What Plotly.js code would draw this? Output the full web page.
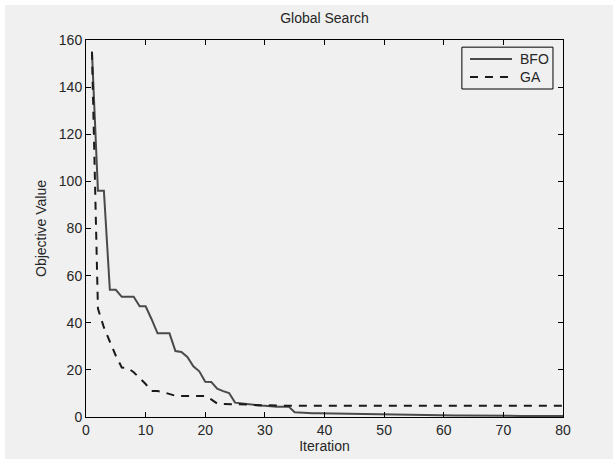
<!DOCTYPE html>
<html>
<head>
<meta charset="utf-8">
<script src="https://cdn.plot.ly/plotly-3.0.1.min.js"></script>
<style>
  html, body { margin: 0; padding: 0; background: #ffffff; width: 613px; height: 464px; overflow: hidden; }
  #chart { position: absolute; left: 5px; top: 5px; width: 608px; height: 454px; }
</style>
</head>
<body>
<div id="chart"></div>
<script>
// Convergence of the best objective value per iteration
const iterations = [
  1, 2, 3, 4, 5, 6, 7, 8, 9, 10,
  11, 12, 13, 14, 15, 16, 17, 18, 19, 20,
  21, 22, 23, 24, 25, 26, 27, 28, 29, 30,
  31, 32, 33, 34, 35, 36, 37, 38, 39, 40,
  41, 42, 43, 44, 45, 46, 47, 48, 49, 50,
  51, 52, 53, 54, 55, 56, 57, 58, 59, 60,
  61, 62, 63, 64, 65, 66, 67, 68, 69, 70,
  71, 72, 73, 74, 75, 76, 77, 78, 79, 80
];

const bfoValues = [
  155, 96, 96, 54, 54, 51, 51, 51, 47, 47,
  41.5, 35.5, 35.5, 35.5, 28, 27.6, 25.5, 21.5, 19.4, 15,
  14.9, 12, 11, 10.2, 6.1, 5.8, 5.3, 5.0, 4.9, 4.8,
  4.5, 4.3, 4.4, 4.4, 2.0, 1.8, 1.7, 1.6, 1.55, 1.5,
  1.45, 1.4, 1.35, 1.3, 1.25, 1.2, 1.2, 1.15, 1.1, 1.1,
  1.05, 1.0, 0.95, 0.9, 0.9, 0.85, 0.8, 0.8, 0.75, 0.7,
  0.7, 0.65, 0.65, 0.6, 0.6, 0.6, 0.55, 0.55, 0.5, 0.5,
  0.5, 0.5, 0.45, 0.45, 0.45, 0.4, 0.4, 0.4, 0.4, 0.4
];

const gaValues = [
  155, 46, 38, 32, 26, 21, 20.8, 19, 16.5, 14,
  11, 11, 10.5, 9.8, 9, 8.9, 8.9, 8.9, 8.9, 8.9,
  7.5, 5.7, 5.5, 5.5, 5.5, 5.4, 5.3, 5.1, 5.0, 4.8,
  4.8, 4.8, 4.8, 4.8, 4.8, 4.8, 4.8, 4.8, 4.8, 4.8,
  4.8, 4.8, 4.8, 4.8, 4.8, 4.8, 4.8, 4.8, 4.8, 4.8,
  4.8, 4.8, 4.8, 4.8, 4.8, 4.8, 4.8, 4.8, 4.8, 4.8,
  4.8, 4.8, 4.8, 4.8, 4.8, 4.8, 4.8, 4.8, 4.8, 4.8,
  4.8, 4.8, 4.8, 4.8, 4.8, 4.8, 4.8, 4.8, 4.8, 4.8
];

const seriesNames = ['BFO', 'GA'];
const xTicks = [0, 10, 20, 30, 40, 50, 60, 70, 80];
const yTicks = [0, 20, 40, 60, 80, 100, 120, 140, 160];

const bg = '#f0f0f0';
const textColor = '#262626';
const fontFamily = '"Liberation Sans", Arial, Helvetica, sans-serif';
const seriesLines = [
  { color: '#4a4a4a', width: 2, dash: 'solid' },
  { color: '#1a1a1a', width: 2, dash: '8px,7px' }
];

const seriesData = [bfoValues, gaValues];
const traces = seriesData.map((vals, i) => ({
  x: iterations, y: vals, name: seriesNames[i], type: 'scatter', mode: 'lines',
  line: seriesLines[i], showlegend: false
}));

// Boxed legend in the upper right corner of the axes (paper coordinates)
const legendBox = { x0: 0.788, x1: 0.979, y0: 0.870, y1: 0.981 };
const legendRows = [0.9496, 0.9019];
const legendShapes = [
  {
    type: 'rect', xref: 'paper', yref: 'paper',
    x0: legendBox.x0, x1: legendBox.x1, y0: legendBox.y0, y1: legendBox.y1,
    line: { color: '#000000', width: 1 }, fillcolor: bg, layer: 'above'
  }
].concat(seriesNames.map((n, i) => ({
  type: 'line', xref: 'paper', yref: 'paper',
  x0: 0.805, x1: 0.893, y0: legendRows[i], y1: legendRows[i],
  line: seriesLines[i], layer: 'above'
})));
const legendLabels = seriesNames.map((n, i) => ({
  text: n, xref: 'paper', yref: 'paper', x: 0.905, y: legendRows[i],
  xanchor: 'left', yanchor: 'middle', showarrow: false,
  font: { family: fontFamily, size: 14, color: textColor }
}));

const axisCommon = {
  showgrid: false, zeroline: false,
  showline: true, linecolor: '#000000', linewidth: 1,
  mirror: 'allticks', ticks: 'inside', ticklen: 5, tickwidth: 1, tickcolor: '#000000',
  tickfont: { family: fontFamily, size: 14, color: textColor },
  fixedrange: true
};

const layout = {
  width: 608, height: 454,
  paper_bgcolor: bg, plot_bgcolor: bg,
  margin: { l: 81, r: 50, t: 35, b: 42, pad: 0 },
  font: { family: fontFamily, size: 14, color: textColor },
  title: {
    text: 'Global Search',
    font: { family: fontFamily, size: 14, color: textColor },
    xref: 'paper', x: 0.5, xanchor: 'center',
    yref: 'container', y: 1 - 13 / 454, yanchor: 'middle'
  },
  xaxis: Object.assign({}, axisCommon, {
    range: [0, 80], tickmode: 'array', tickvals: xTicks, ticktext: xTicks.map(String),
    title: { text: 'Iteration', standoff: 4, font: { family: fontFamily, size: 14, color: textColor } }
  }),
  yaxis: Object.assign({}, axisCommon, {
    range: [0, 160], tickmode: 'array', tickvals: yTicks, ticktext: yTicks.map(String),
    title: { text: 'Objective Value', standoff: 8, font: { family: fontFamily, size: 14, color: textColor } }
  }),
  showlegend: false,
  shapes: legendShapes,
  annotations: legendLabels
};

Plotly.newPlot('chart', traces, layout, { staticPlot: true, displayModeBar: false });
</script>
</body>
</html>
